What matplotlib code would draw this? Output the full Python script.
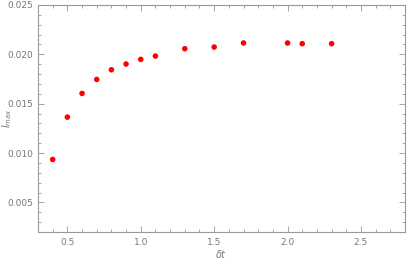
import matplotlib
matplotlib.use("Agg")
import matplotlib.pyplot as plt
from matplotlib.ticker import MultipleLocator, FormatStrFormatter

dt = [0.4, 0.5, 0.6, 0.7, 0.8, 0.9, 1.0, 1.1, 1.3, 1.5, 1.7, 2.0, 2.1, 2.3]
imax = [0.00935, 0.01364, 0.01604, 0.01746, 0.01844, 0.01902, 0.01949,
        0.01983, 0.02057, 0.02074, 0.02115, 0.02115, 0.02108, 0.02108]

fig = plt.figure(figsize=(4.07, 2.62), dpi=100)
ax = fig.add_axes([38/407, 30/262, (405-38)/407, (232-5)/262])
ax.scatter(dt, imax, s=16, color="#ff0000", edgecolors="none", zorder=3)
ax.set_xlim(0.3, 2.8)
ax.set_ylim(0.002, 0.025)
ax.xaxis.set_major_locator(MultipleLocator(0.5))
ax.xaxis.set_minor_locator(MultipleLocator(0.1))
ax.yaxis.set_major_locator(MultipleLocator(0.005))
ax.yaxis.set_minor_locator(MultipleLocator(0.001))
ax.xaxis.set_major_formatter(FormatStrFormatter("%.1f"))
ax.yaxis.set_major_formatter(FormatStrFormatter("%.3f"))
gray = "#999999"
tcol = "#777777"
for s in ax.spines.values():
    s.set_color(gray)
    s.set_linewidth(0.8)
ax.tick_params(which="both", direction="in", top=True, right=True, colors=gray,
               labelcolor=tcol, labelsize=6.5, width=0.6)
ax.tick_params(which="major", length=4)
ax.tick_params(which="minor", length=2)
ax.tick_params(axis="x", pad=4)
ax.set_xlabel(r"$\delta t$", color=tcol, fontsize=7, labelpad=1)
fig.text(7/407, 1 - 118/262, r"$I_{max}$", color=tcol, fontsize=7,
         rotation=90, ha="center", va="center")
fig.savefig("out.png", dpi=100)
